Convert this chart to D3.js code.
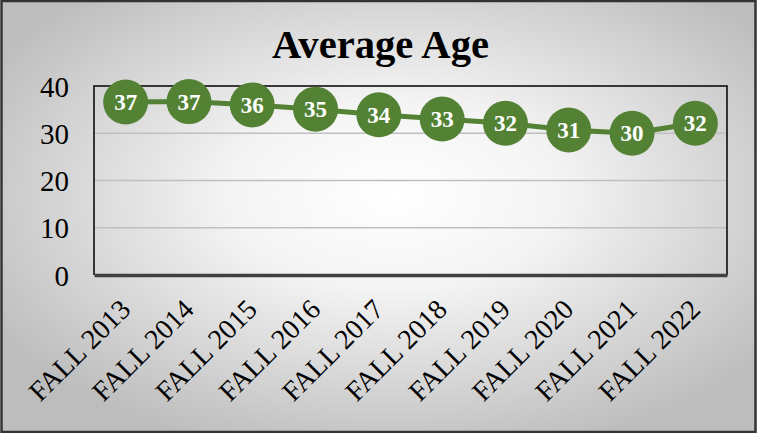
<!DOCTYPE html>
<html>
<head>
<meta charset="utf-8">
<script src="https://cdn.jsdelivr.net/npm/d3@7"></script>
<style>
  html, body { margin: 0; padding: 0; background: #fff; }
  svg { display: block; }
  text { font-family: "Liberation Serif", "Times New Roman", serif; }
</style>
</head>
<body>
<script>
// data
const terms = ["FALL 2013", "FALL 2014", "FALL 2015", "FALL 2016", "FALL 2017",
               "FALL 2018", "FALL 2019", "FALL 2020", "FALL 2021", "FALL 2022"];
const avgAge = [36.6, 36.7, 36.0, 35.1, 33.9, 33.0, 32.1, 30.7, 30.0, 32.1];
const yTicks = [0, 10, 20, 30, 40];

const W = 757, H = 433;
const plotL = 94, plotR = 727, plotT = 86, plotB = 275;
const green = "#548235";

const svg = d3.select("body").append("svg")
    .attr("width", W)
    .attr("height", H);

const defs = svg.append("defs");
const grad = defs.append("radialGradient")
    .attr("id", "bg")
    .attr("cx", "52%").attr("cy", "45%").attr("r", "62%");
grad.append("stop").attr("offset", "0%").attr("stop-color", "#ffffff");
grad.append("stop").attr("offset", "35%").attr("stop-color", "#f4f4f4");
grad.append("stop").attr("offset", "100%").attr("stop-color", "#bdbdbd");

svg.append("rect")
    .attr("x", 1.5).attr("y", 1)
    .attr("width", W - 3).attr("height", H - 2)
    .attr("fill", "url(#bg)")
    .attr("stroke", "#333")
    .attr("stroke-width", 2.5);

// title
svg.append("text")
    .attr("x", 380.5)
    .attr("y", 58)
    .attr("text-anchor", "middle")
    .attr("font-size", 40)
    .attr("font-weight", "bold")
    .attr("textLength", 217)
    .attr("lengthAdjust", "spacingAndGlyphs")
    .text("Average Age");

const x = d3.scalePoint()
    .domain(terms)
    .range([plotL, plotR])
    .padding(0.5);

const y = d3.scaleLinear()
    .domain([0, 40])
    .range([plotB, plotT]);

// gridlines
svg.append("g")
    .selectAll("line")
    .data(yTicks.filter(d => d > 0 && d < 40))
    .enter()
    .append("line")
    .attr("x1", plotL).attr("x2", plotR)
    .attr("y1", d => y(d)).attr("y2", d => y(d))
    .attr("stroke", "#bfbfbf")
    .attr("stroke-width", 1.5);

// plot area frame
svg.append("path")
    .attr("d", `M${plotL},${plotB}V${plotT}H${plotR}V${plotB}`)
    .attr("fill", "none")
    .attr("stroke", "#000")
    .attr("stroke-width", 1.5);

// y axis labels
const yAxis = svg.append("g")
    .attr("transform", `translate(${plotL - 25},0)`)
    .call(d3.axisLeft(y).tickValues(yTicks).tickSize(0).tickPadding(0));
yAxis.select(".domain").remove();
yAxis.selectAll("text")
    .attr("font-family", "'Liberation Serif', 'Times New Roman', serif")
    .attr("font-size", 29)
    .attr("fill", "#000")
    .attr("dy", "0.35em");

// x axis
const xAxis = svg.append("g")
    .attr("transform", `translate(0,${plotB})`)
    .call(d3.axisBottom(x).tickSize(0).tickPadding(0));
xAxis.select(".domain")
    .attr("stroke", "#404040")
    .attr("stroke-width", 3.5);
xAxis.selectAll("text")
    .attr("font-family", "'Liberation Serif', 'Times New Roman', serif")
    .attr("font-size", 28)
    .attr("fill", "#000")
    .attr("text-anchor", "end")
    .attr("dy", 0)
    .attr("y", 0)
    .attr("transform", "translate(6,36) rotate(-45)");

// line + markers
const line = d3.line()
    .x((d, i) => x(terms[i]))
    .y(d => y(d));

svg.append("path")
    .datum(avgAge)
    .attr("d", line)
    .attr("fill", "none")
    .attr("stroke", green)
    .attr("stroke-width", 5);

const pts = svg.append("g")
    .selectAll("g")
    .data(avgAge)
    .enter()
    .append("g")
    .attr("transform", (d, i) => `translate(${x(terms[i])},${y(d)})`);

pts.append("circle")
    .attr("r", 22.5)
    .attr("fill", green);

pts.append("text")
    .attr("text-anchor", "middle")
    .attr("dy", "0.35em")
    .attr("font-size", 23)
    .attr("font-weight", "bold")
    .attr("fill", "#fff")
    .text(d => d3.format(".0f")(d));
</script>
</body>
</html>
